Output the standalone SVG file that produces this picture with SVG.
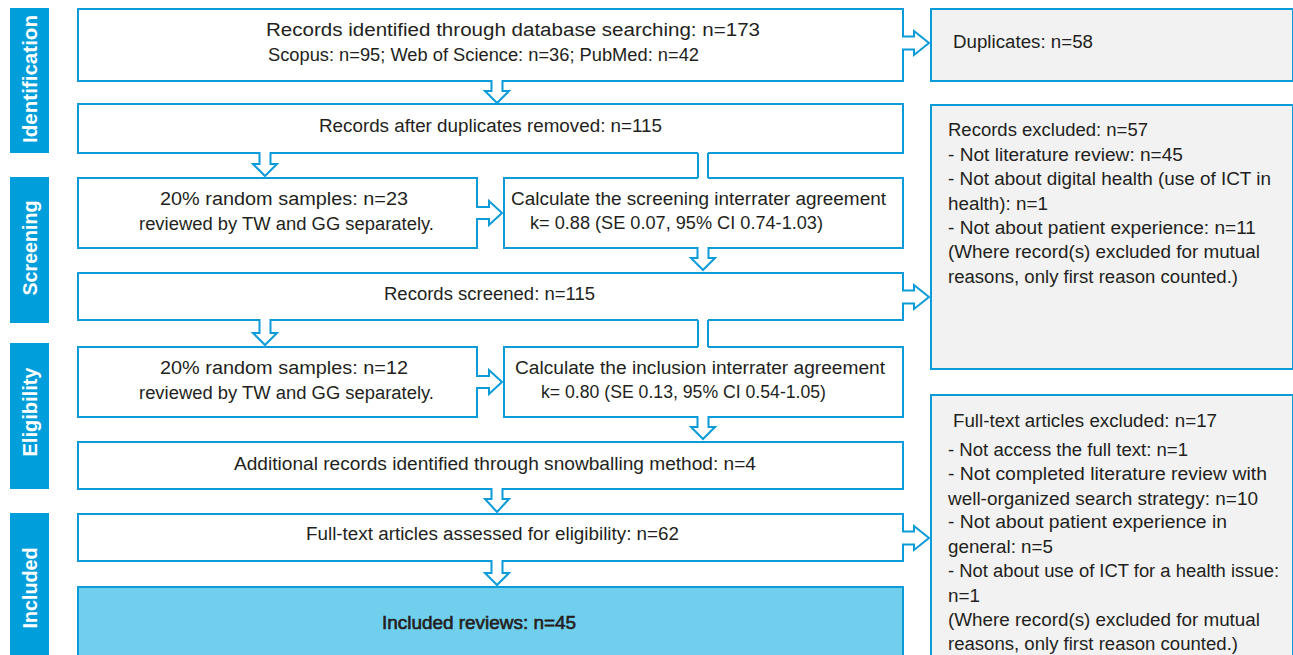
<svg xmlns="http://www.w3.org/2000/svg" width="1293" height="655" viewBox="0 0 1293 655">
<style>
.bg{fill:#ffffff}
.box{fill:#ffffff;stroke:#0a9bd8;stroke-width:2}
.gbox{fill:#f2f2f2;stroke:#0a9bd8;stroke-width:2}
.inc{fill:#71cfee;stroke:#0a9bd8;stroke-width:2}
.side{fill:#009edb}
.st{font-family:"Liberation Sans",Arial,sans-serif;font-size:20px;font-weight:bold;fill:#ffffff;text-anchor:middle}
.t{font-family:"Liberation Sans",Arial,sans-serif;font-size:18px;fill:#231f20}
.arr{fill:#ffffff;stroke:#0a9bd8;stroke-width:2}
.sh{fill:#ffffff}
.ln{stroke:#0a9bd8;stroke-width:2}
</style>
<rect class="bg" x="0" y="0" width="1293" height="655"/>

<g id="stage-identification">
<rect class="side" x="10" y="8" width="39" height="145"/>
<text class="st" transform="translate(37,79) rotate(-90)" textLength="128" lengthAdjust="spacingAndGlyphs">Identification</text>
</g>
<g id="stage-screening">
<rect class="side" x="10" y="177" width="39" height="146"/>
<text class="st" transform="translate(37,248) rotate(-90)" textLength="95" lengthAdjust="spacingAndGlyphs">Screening</text>
</g>
<g id="stage-eligibility">
<rect class="side" x="10" y="343" width="39" height="146"/>
<text class="st" transform="translate(37,412) rotate(-90)" textLength="89" lengthAdjust="spacingAndGlyphs">Eligibility</text>
</g>
<g id="stage-included">
<rect class="side" x="10" y="513" width="39" height="160"/>
<text class="st" transform="translate(37,588) rotate(-90)" textLength="81" lengthAdjust="spacingAndGlyphs">Included</text>
</g>

<g id="n-identified">
<rect class="box" x="78" y="9" width="825" height="72"/>
<text class="t" x="266" y="36" textLength="494" lengthAdjust="spacingAndGlyphs">Records identified through database searching: n=173</text>
<text class="t" x="268" y="61" textLength="431" lengthAdjust="spacingAndGlyphs">Scopus: n=95; Web of Science: n=36; PubMed: n=42</text>
</g>
<g id="n-after-dup">
<rect class="box" x="78" y="104" width="825" height="49"/>
<text class="t" x="319" y="132" textLength="343" lengthAdjust="spacingAndGlyphs">Records after duplicates removed: n=115</text>
</g>
<g id="n-sample-screen">
<rect class="box" x="78" y="178" width="399" height="70"/>
<text class="t" x="160" y="205" textLength="248" lengthAdjust="spacingAndGlyphs">20% random samples: n=23</text>
<text class="t" x="139" y="230" textLength="295" lengthAdjust="spacingAndGlyphs">reviewed by TW and GG separately.</text>
</g>
<g id="n-agree-screen">
<rect class="box" x="504" y="178" width="399" height="70"/>
<text class="t" x="511" y="205" textLength="375" lengthAdjust="spacingAndGlyphs">Calculate the screening interrater agreement</text>
<text class="t" x="530" y="229" textLength="293" lengthAdjust="spacingAndGlyphs">k= 0.88 (SE 0.07, 95% CI 0.74-1.03)</text>
</g>
<g id="n-screened">
<rect class="box" x="78" y="273" width="825" height="47"/>
<text class="t" x="384" y="300" textLength="211" lengthAdjust="spacingAndGlyphs">Records screened: n=115</text>
</g>
<g id="n-sample-elig">
<rect class="box" x="78" y="347" width="399" height="70"/>
<text class="t" x="160" y="374" textLength="248" lengthAdjust="spacingAndGlyphs">20% random samples: n=12</text>
<text class="t" x="139" y="399" textLength="295" lengthAdjust="spacingAndGlyphs">reviewed by TW and GG separately.</text>
</g>
<g id="n-agree-elig">
<rect class="box" x="504" y="347" width="399" height="70"/>
<text class="t" x="515" y="374" textLength="370" lengthAdjust="spacingAndGlyphs">Calculate the inclusion interrater agreement</text>
<text class="t" x="541" y="398" textLength="285" lengthAdjust="spacingAndGlyphs">k= 0.80 (SE 0.13, 95% CI 0.54-1.05)</text>
</g>
<g id="n-snowball">
<rect class="box" x="78" y="442" width="825" height="47"/>
<text class="t" x="234" y="470" textLength="522" lengthAdjust="spacingAndGlyphs">Additional records identified through snowballing method: n=4</text>
</g>
<g id="n-fulltext">
<rect class="box" x="78" y="514" width="825" height="47"/>
<text class="t" x="306" y="540" textLength="373" lengthAdjust="spacingAndGlyphs">Full-text articles assessed for eligibility: n=62</text>
</g>
<g id="n-included">
<rect class="inc" x="78" y="587" width="825" height="90"/>
<text class="t" x="382" y="629" textLength="194" lengthAdjust="spacingAndGlyphs" stroke="#231f20" stroke-width="0.6">Included reviews: n=45</text>
</g>

<g id="n-duplicates">
<rect class="gbox" x="931" y="9" width="362" height="72"/>
<text class="t" x="953" y="48" textLength="140" lengthAdjust="spacingAndGlyphs">Duplicates: n=58</text>
</g>
<g id="n-excluded">
<rect class="gbox" x="931" y="105" width="362" height="264"/>
<text class="t" x="948" y="136" textLength="200" lengthAdjust="spacingAndGlyphs">Records excluded: n=57</text>
<text class="t" x="948" y="161" textLength="235" lengthAdjust="spacingAndGlyphs">- Not literature review: n=45</text>
<text class="t" x="948" y="185" textLength="323" lengthAdjust="spacingAndGlyphs">- Not about digital health (use of ICT in</text>
<text class="t" x="948" y="210" textLength="100" lengthAdjust="spacingAndGlyphs">health): n=1</text>
<text class="t" x="948" y="234" textLength="308" lengthAdjust="spacingAndGlyphs">- Not about patient experience: n=11</text>
<text class="t" x="948" y="258" textLength="312" lengthAdjust="spacingAndGlyphs">(Where record(s) excluded for mutual</text>
<text class="t" x="948" y="283" textLength="290" lengthAdjust="spacingAndGlyphs">reasons, only first reason counted.)</text>
</g>
<g id="n-ft-excluded">
<rect class="gbox" x="931" y="395" width="362" height="290"/>
<text class="t" x="953" y="427" textLength="264" lengthAdjust="spacingAndGlyphs">Full-text articles excluded: n=17</text>
<text class="t" x="948" y="456" textLength="240" lengthAdjust="spacingAndGlyphs">- Not access the full text: n=1</text>
<text class="t" x="948" y="480" textLength="319" lengthAdjust="spacingAndGlyphs">- Not completed literature review with</text>
<text class="t" x="948" y="505" textLength="310" lengthAdjust="spacingAndGlyphs">well-organized search strategy: n=10</text>
<text class="t" x="948" y="528" textLength="279" lengthAdjust="spacingAndGlyphs">- Not about patient experience in</text>
<text class="t" x="948" y="553" textLength="105" lengthAdjust="spacingAndGlyphs">general: n=5</text>
<text class="t" x="948" y="577" textLength="331" lengthAdjust="spacingAndGlyphs">- Not about use of ICT for a health issue:</text>
<text class="t" x="948" y="602" textLength="32" lengthAdjust="spacingAndGlyphs">n=1</text>
<text class="t" x="948" y="626" textLength="312" lengthAdjust="spacingAndGlyphs">(Where record(s) excluded for mutual</text>
<text class="t" x="948" y="650" textLength="290" lengthAdjust="spacingAndGlyphs">reasons, only first reason counted.)</text>
</g>

<g id="connectors">
<path class="arr" d="M491.5,80 L491.5,91 L485,91 L497,103 L509,91 L502.5,91 L502.5,80"/>
<path class="arr" d="M259.5,152 L259.5,164 L253,164 L265,176 L277,164 L270.5,164 L270.5,152"/>
<path class="arr" d="M697.5,247 L697.5,258 L691,258 L703,270 L715,258 L708.5,258 L708.5,247"/>
<path class="arr" d="M259.5,319 L259.5,333 L253,333 L265,345 L277,333 L270.5,333 L270.5,319"/>
<path class="arr" d="M697.5,416 L697.5,427 L691,427 L703,439 L715,427 L708.5,427 L708.5,416"/>
<path class="arr" d="M491.5,488 L491.5,499 L485,499 L497,512 L509,499 L502.5,499 L502.5,488"/>
<path class="arr" d="M491.5,560 L491.5,573 L485,573 L497,585 L509,573 L502.5,573 L502.5,560"/>
<rect class="sh" x="698" y="151" width="10" height="29"/>
<line class="ln" x1="698" y1="153" x2="698" y2="178"/>
<line class="ln" x1="708" y1="153" x2="708" y2="178"/>
<rect class="sh" x="698" y="318" width="10" height="31"/>
<line class="ln" x1="698" y1="320" x2="698" y2="347"/>
<line class="ln" x1="708" y1="320" x2="708" y2="347"/>
<path class="arr" d="M476,207 L489,207 L489,201 L502,213 L489,225 L489,219 L476,219"/>
<path class="arr" d="M476,376 L489,376 L489,370 L502,382 L489,394 L489,388 L476,388"/>
<path class="arr" d="M902,36.5 L914,36.5 L914,31 L929,43 L914,55 L914,49.5 L902,49.5"/>
<path class="arr" d="M902,290.5 L914,290.5 L914,285 L929,297 L914,309 L914,303.5 L902,303.5"/>
<path class="arr" d="M902,531.5 L914,531.5 L914,526 L929,538 L914,550 L914,544.5 L902,544.5"/>
</g>
</svg>
